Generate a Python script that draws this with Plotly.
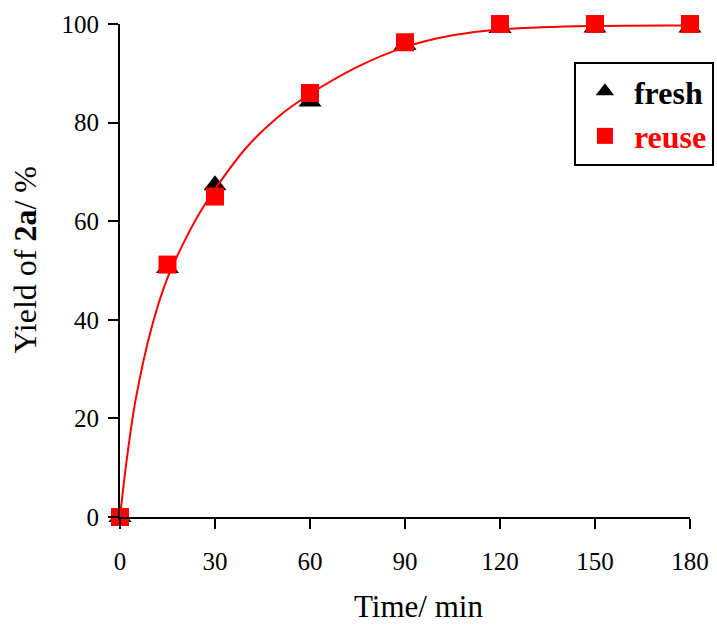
import plotly.graph_objects as go

time_min = [0, 15, 30, 60, 90, 120, 150, 180]
fresh = [0, 50.5, 67.3, 84.3, 95.8, 99.2, 99.3, 99.3]
reuse = [0, 51.2, 65.0, 86.0, 96.3, 100.0, 100.0, 100.0]

# fitted curve
curve_t = [0, 2, 5, 10, 15, 20, 25, 30, 40, 50, 60, 75, 90, 105, 120, 150, 180]
curve_v = [0, 11, 24, 38.5, 48.5, 55.5, 61.5, 66.5, 75, 81.2, 85.8, 91.3, 95.3, 97.7, 98.9, 99.6, 99.7]

x_ticks = [0, 30, 60, 90, 120, 150, 180]
y_ticks = [0, 20, 40, 60, 80, 100]

x_title = "Time/ min"
y_title = "Yield of <b>2a</b>/ %"

FONT = "Liberation Serif"

fig = go.Figure()
fig.add_trace(go.Scatter(
    x=time_min, y=fresh, mode="markers", name="<b>fresh</b>",
    marker=dict(symbol="triangle-up", size=20, color="black", line=dict(width=0)),
    cliponaxis=False))
fig.add_trace(go.Scatter(
    x=time_min, y=reuse, mode="markers",
    name="<b><span style='color:#ff0000'>reuse</span></b>",
    marker=dict(symbol="square", size=18, color="#ff0000", line=dict(width=0)),
    cliponaxis=False))
fig.add_trace(go.Scatter(
    x=curve_t, y=curve_v, mode="lines", showlegend=False,
    line=dict(color="#ff0000", width=2, shape="spline", smoothing=1.0),
    cliponaxis=False, hoverinfo="skip"))

fig.update_layout(
    width=717, height=625,
    margin=dict(l=120, r=27, t=24, b=108, autoexpand=False),
    paper_bgcolor="white", plot_bgcolor="white",
    font=dict(family=FONT, size=24, color="black"),
    showlegend=True,
    legend=dict(
        x=1.042, xanchor="right", y=0.923, yanchor="top",
        bordercolor="black", borderwidth=2, bgcolor="white",
        font=dict(family=FONT, size=32, color="black"),
        itemwidth=48, tracegroupgap=0,
    ),
    annotations=[
        dict(text=x_title, xref="paper", yref="paper", x=0.523, y=-0.181,
             xanchor="center", yanchor="middle", showarrow=False,
             font=dict(family=FONT, size=31, color="black")),
        dict(text=y_title, xref="paper", yref="paper", x=-0.166, y=0.523,
             xanchor="center", yanchor="middle", showarrow=False, textangle=-90,
             font=dict(family=FONT, size=32, color="black")),
    ],
)
fig.update_xaxes(
    range=[0, 180], tickvals=x_ticks, ticktext=[str(v) for v in x_ticks],
    showgrid=False, zeroline=False, showline=True, linecolor="black", linewidth=2,
    ticks="outside", ticklen=10, tickwidth=2, tickcolor="black",
    tickfont=dict(family=FONT, size=25), ticklabelstandoff=11, automargin=False,
)
fig.update_yaxes(
    range=[0, 100], tickvals=y_ticks, ticktext=[str(v) for v in y_ticks],
    showgrid=False, zeroline=False, showline=True, linecolor="black", linewidth=2,
    ticks="outside", ticklen=10, tickwidth=2, tickcolor="black",
    tickfont=dict(family=FONT, size=25), ticklabelstandoff=4, automargin=False,
)

fig.write_html("out.html", config={"displayModeBar": False},
               post_script="document.body.style.margin='0';document.body.style.padding='0';")
